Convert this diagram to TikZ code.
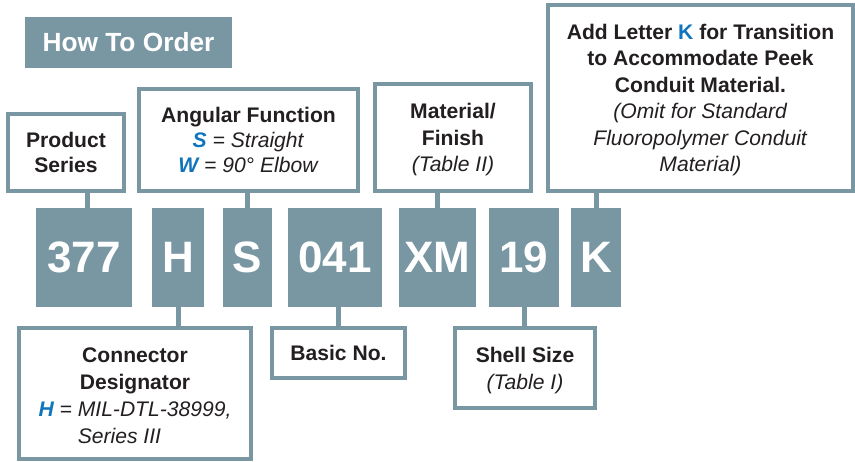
\documentclass[tikz,border=0pt]{standalone}
\usepackage{fontspec}
\setmainfont{Liberation Sans}
\usetikzlibrary{calc}
\definecolor{slate}{RGB}{121,150,163}
\definecolor{kblue}{RGB}{16,117,188}
\definecolor{ink}{RGB}{35,31,32}
\newcommand{\nodepth}[1]{\raisebox{0pt}[\height][0pt]{#1}}
\begin{document}
\begin{tikzpicture}[x=1pt,y=-1pt,
  obox/.style={draw=slate, line width=4pt, fill=white, text=ink, align=center, inner sep=0pt, font=\fontsize{21.1}{26.5}\selectfont},
  tight/.style={font=\fontsize{21.1}{24.7}\selectfont},
  code/.style={fill=slate, text=white, inner sep=0pt, outer sep=0pt, minimum height=99pt, font=\bfseries\fontsize{44}{44}\selectfont},
  conn/.style={draw=slate, line width=5pt},
  titlebox/.style={fill=slate, text=white, inner sep=0pt, minimum width=207pt, minimum height=51pt, font=\bfseries\fontsize{26.3}{30}\selectfont}]
\useasboundingbox (0,0) rectangle (855,462);

% title
\node[titlebox] (title) at (128.5,42.5) {How To Order};

% upper boxes
\node[obox, tight, minimum width=116pt, minimum height=77pt] (ps) at (66,152.5)
  {\textbf{Product}\\\textbf{Series}};
\node[obox, tight, minimum width=219pt, minimum height=102pt] (ang) at (248.5,140)
  {\textbf{Angular Function}\\\textit{\textcolor{kblue}{\textbf{S}} = Straight}\\\textit{\textcolor{kblue}{\textbf{W}} = 90° Elbow}};
\node[obox, minimum width=156pt, minimum height=107pt] (mat) at (453,137.5)
  {\textbf{Material/}\\\textbf{Finish}\\\nodepth{\textit{(Table II)}}};
\node[obox, minimum width=305pt, minimum height=186pt] (kb) at (700.5,98)
  {\textbf{Add Letter \textcolor{kblue}{K} for Transition}\\\textbf{to Accommodate Peek}\\\textbf{Conduit Material.}\\\textit{(Omit for Standard}\\\textit{Fluoropolymer Conduit}\\\nodepth{\textit{Material)}}};

% code boxes
\node[code, minimum width=96pt] (c377) at (84,257.5) {377};
\node[code, minimum width=52pt] (cH) at (178,257.5) {H};
\node[code, minimum width=49pt] (cS) at (247.5,257.5) {S};
\node[code, minimum width=94pt] (c041) at (335,257.5) {041};
\node[code, minimum width=77pt] (cXM) at (437.5,257.5) {XM};
\node[code, minimum width=70pt] (c19) at (524,257.5) {19};
\node[code, minimum width=50pt] (cK) at (596,257.5) {K};

% lower boxes
\node[obox, font=\fontsize{21.1}{27}\selectfont, minimum width=232pt, minimum height=131pt] (cd) at (135,393.5)
  {\rule{0pt}{18.5pt}\textbf{Connector}\\\textbf{Designator}\\\textit{\textcolor{kblue}{\textbf{H}} = MIL-DTL-38999,}\\\textit{\hphantom{\textbf{H} = }\rlap{Series III}\hphantom{MIL-DTL-38999,}}};
\node[obox, minimum width=133pt, minimum height=50pt] (bn) at (338.5,353)
  {\textbf{Basic No.}};
\node[obox, font=\fontsize{21.1}{27}\selectfont, minimum width=140pt, minimum height=80pt] (ss) at (525,368)
  {\textbf{Shell Size}\\\nodepth{\textit{(Table I)}}};

% connectors
\draw[conn] ([xshift=3pt]c377.north) -- ([xshift=3pt]c377.north |- ps.south);
\draw[conn] (cS.north) -- (cS.north |- ang.south);
\draw[conn] (cXM.north) -- (cXM.north |- mat.south);
\draw[conn] (cK.north) -- (cK.north |- kb.south);
\draw[conn] (cH.south) -- (cH.south |- cd.north);
\draw[conn] ([xshift=3pt]c041.south) -- ([xshift=3pt]c041.south |- bn.north);
\draw[conn] (c19.south) -- (c19.south |- ss.north);
\end{tikzpicture}
\end{document}
